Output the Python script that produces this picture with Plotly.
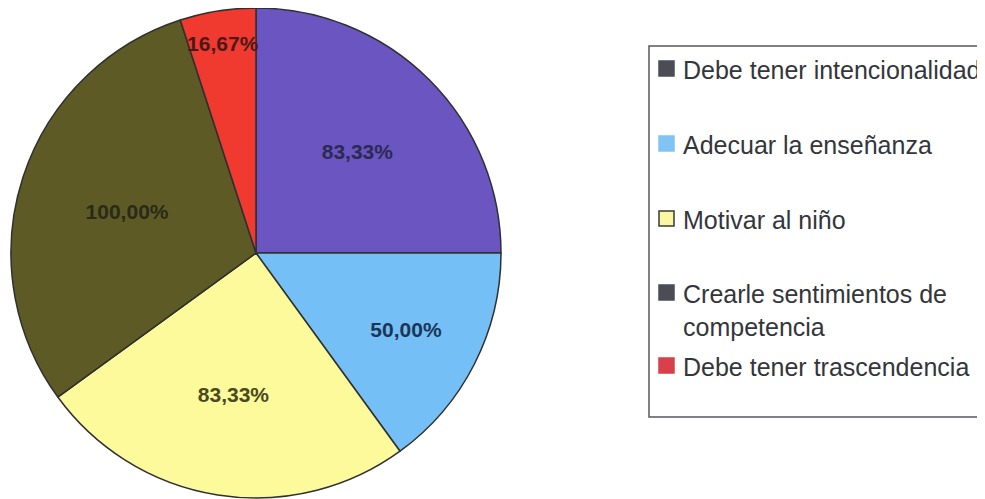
import plotly.graph_objects as go

categories = ["Debe tener intencionalidad", "Adecuar la enseñanza", "Motivar al niño",
              "Crearle sentimientos de competencia", "Debe tener trascendencia"]
values = [83.33, 50.00, 83.33, 100.00, 16.67]
value_labels = ["83,33%", "50,00%", "83,33%", "100,00%", "16,67%"]
slice_colors = ["#6b55c0", "#74bff5", "#fcfa9a", "#5d5a25", "#f0392f"]
label_colors = ["#2c2a55", "#1c3556", "#4a4a22", "#2a2a18", "#4a1a18"]
legend_texts = ["Debe tener intencionalidad", "Adecuar la enseñanza", "Motivar al niño",
                "Crearle sentimientos de<br>competencia", "Debe tener trascendencia"]
legend_swatch = ["#4a4d55", "#80c4f4", "#fbf7a0", "#4a4d55", "#d8404a"]

OFF = 8  # default page body margin
W, H = 985 - OFF, 499 - OFF


def px(x):
    return (x - OFF) / W


def py(y):
    return 1 - (y - OFF) / H


fig = go.Figure()
fig.add_trace(go.Pie(
    labels=categories, values=values, text=value_labels,
    textinfo="text", textposition="inside", insidetextorientation="horizontal",
    sort=False, direction="clockwise", rotation=0,
    marker=dict(colors=slice_colors, line=dict(color="#2f3030", width=1.5)),
    textfont=dict(family="Liberation Sans", size=21, color=label_colors, weight="bold"),
    domain=dict(x=[px(11), px(501)], y=[max(0, py(498)), py(8)]),
    showlegend=False, hoverinfo="label+text",
))

shapes = []
annotations = []
shapes.append(dict(type="rect", xref="paper", yref="paper",
                   x0=px(649), x1=1.02, y0=py(417), y1=py(46),
                   line=dict(color="#55585c", width=1.5), fillcolor="rgba(0,0,0,0)"))
item_y = [68, 143, 218, 292, 365]
for i, (t, c) in enumerate(zip(legend_texts, legend_swatch)):
    yc = item_y[i]
    shapes.append(dict(type="rect", xref="paper", yref="paper",
                       x0=px(659), x1=px(674), y0=py(yc + 8), y1=py(yc - 7),
                       fillcolor=c, line=dict(color="#3a3a3a" if i == 2 else c, width=1.5)))
    annotations.append(dict(xref="paper", yref="paper", x=px(681), y=py(yc - 14),
                            xanchor="left", yanchor="top", align="left", showarrow=False,
                            text=t, font=dict(family="Liberation Sans", size=25, color="#33363a")))

fig.update_layout(
    width=W, height=H, margin=dict(l=0, r=0, t=0, b=0),
    paper_bgcolor="white", plot_bgcolor="white",
    shapes=shapes, annotations=annotations,
    uniformtext=dict(minsize=21, mode="show"),
)
fig.write_html("out.html")
